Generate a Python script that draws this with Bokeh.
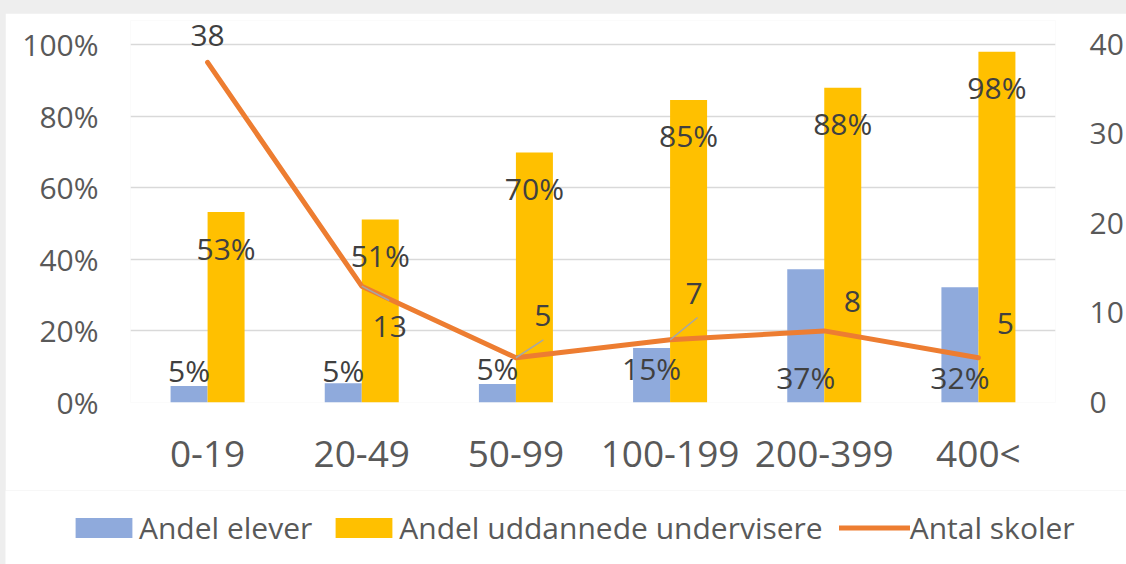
from bokeh.plotting import figure
from bokeh.layouts import column
from bokeh.models import (ColumnDataSource, FactorRange, LinearAxis, Range1d, FixedTicker,
                          NumeralTickFormatter, Legend, LegendItem)
from bokeh.transform import dodge
from bokeh.core.properties import value
from bokeh.embed import file_html
from bokeh.resources import INLINE

# ---------------- data ----------------
categories = ["0-19", "20-49", "50-99", "100-199", "200-399", "400<"]
andel_elever = [0.046, 0.054, 0.052, 0.152, 0.372, 0.322]
andel_uddannede = [0.532, 0.511, 0.698, 0.845, 0.879, 0.980]
antal_skoler = [38, 13, 5, 7, 8, 5]

elever_labels = ["5%", "5%", "5%", "15%", "37%", "32%"]
uddannede_labels = ["53%", "51%", "70%", "85%", "88%", "98%"]
skoler_labels = ["38", "13", "5", "7", "8", "5"]
series_names = ["Andel elever", "Andel uddannede undervisere", "Antal skoler"]

left_ticks = [0, 0.2, 0.4, 0.6, 0.8, 1.0]
right_ticks = [0, 10, 20, 30, 40]

# data-label placement (as positioned in the original chart)
elever_label_y = [0.09, 0.09, 0.095, 0.095, 0.07, 0.07]
skoler_label_dx_px = [0, 28, 27, 24, 28, 27]
skoler_label_y = [41.0, 8.5, 9.7, 12.2, 11.3, 8.8]

leader_categories = ["20-49", "50-99", "100-199"]
leader_start = [13, 5, 7]
leader_end_y = [11.4, 7.0, 9.5]

FONT = "Open Sans"
AXIS_COLOR = "#595959"
LABEL_COLOR = "#404040"
BLUE, YELLOW, ORANGE = "#8FAADC", "#FFC000", "#ED7D31"

src = ColumnDataSource(dict(
    cat=categories, elev=andel_elever, udd=andel_uddannede, sk=antal_skoler,
    elev_lab=elever_labels, udd_lab=uddannede_labels, sk_lab=skoler_labels,
    elev_ly=elever_label_y, sk_dx=skoler_label_dx_px, sk_ly=skoler_label_y,
))
leader_src = ColumnDataSource(dict(cat=leader_categories, y0=leader_start, y1=leader_end_y))

# ---------------- main chart ----------------
p = figure(x_range=FactorRange(factors=categories), y_range=Range1d(0, 1.067),
           width=1121, height=477, output_backend="svg", toolbar_location=None, title=None,
           min_border_left=125, min_border_right=71, min_border_top=7, min_border_bottom=88)
p.margin = (13, 0, 0, 5)
p.extra_y_ranges = {"right": Range1d(0, 42.68)}

p.outline_line_color = None
p.background_fill_color = "white"
p.border_fill_color = "white"

p.yaxis.ticker = FixedTicker(ticks=left_ticks)
p.yaxis.formatter = NumeralTickFormatter(format="0%")
right_axis = LinearAxis(y_range_name="right", ticker=FixedTicker(ticks=right_ticks))
p.add_layout(right_axis, "right")

for ax in [p.yaxis[0], right_axis, p.xaxis[0]]:
    ax.axis_line_color = None
    ax.major_tick_line_color = None
    ax.minor_tick_line_color = None
    ax.major_label_text_font = FONT
    ax.major_label_text_color = AXIS_COLOR
    ax.major_label_text_font_size = "30px"
p.yaxis[0].major_label_standoff = 26
right_axis.major_label_standoff = 28
p.xaxis[0].major_label_text_font_size = "37px"
p.xaxis[0].major_label_standoff = 18

p.xgrid.grid_line_color = None
p.ygrid.ticker = FixedTicker(ticks=left_ticks)
p.ygrid.grid_line_color = "#d9d9d9"
p.ygrid.grid_line_width = 1.3

p.vbar(x=dodge("cat", -0.12, range=p.x_range), top="elev", width=0.24, source=src,
       fill_color=BLUE, line_color=None)
p.vbar(x=dodge("cat", 0.12, range=p.x_range), top="udd", width=0.24, source=src,
       fill_color=YELLOW, line_color=None)
p.line(x="cat", y="sk", source=src, y_range_name="right", line_color=ORANGE,
       line_width=5, line_cap="round", line_join="round")
p.segment(x0="cat", y0="y0", x1=dodge("cat", 0.178, range=p.x_range), y1="y1",
          source=leader_src, y_range_name="right", line_color="#a6a6a6", line_width=1.5)

common = dict(text_align="center", text_baseline="middle", text_font=value(FONT),
              text_font_size="30px", text_color=LABEL_COLOR, source=src)
p.text(x=dodge("cat", -0.12, range=p.x_range), y="elev_ly", text="elev_lab", **common)
p.text(x=dodge("cat", 0.12, range=p.x_range), y="udd", text="udd_lab", y_offset=36, **common)
p.text(x="cat", y="sk_ly", text="sk_lab", x_offset="sk_dx", y_range_name="right", **common)

# ---------------- legend strip (series drawn out of view, only their keys show) ----------------
lg = figure(x_range=p.x_range, y_range=Range1d(50, 60), width=1121, height=74,
            output_backend="svg", toolbar_location=None, title=None,
            x_axis_type=None, y_axis_type=None,
            min_border_left=0, min_border_right=0, min_border_top=0, min_border_bottom=0)
lg.margin = (0, 0, 0, 5)
lg.outline_line_color = None
lg.background_fill_color = "white"
lg.border_fill_color = "white"
lg.xgrid.visible = False
lg.ygrid.visible = False
for fig in (p, lg):
    if "frame_align" in fig.properties():
        fig.frame_align = False

k_elev = lg.vbar(x=dodge("cat", -0.12, range=p.x_range), top="elev", width=0.24, source=src,
                 fill_color=BLUE, line_color=None)
k_udd = lg.vbar(x=dodge("cat", 0.12, range=p.x_range), top="udd", width=0.24, source=src,
                fill_color=YELLOW, line_color=None)
k_line = lg.line(x="cat", y="sk", source=src, line_color=ORANGE, line_width=5, line_cap="round")

legend = Legend(items=[LegendItem(label=series_names[0], renderers=[k_elev]),
                       LegendItem(label=series_names[1], renderers=[k_udd]),
                       LegendItem(label=series_names[2], renderers=[k_line])],
                orientation="horizontal", location=(63, 16),
                glyph_width=71, glyph_height=25, label_standoff=0, spacing=16,
                padding=0, margin=0, border_line_color=None, background_fill_alpha=0,
                label_text_font=FONT, label_text_font_size="30px", label_text_color=AXIS_COLOR)
lg.add_layout(legend)

layout = column(p, lg, spacing=0, styles={"background-color": "#eeeeee"})

open("out.html", "w").write(file_html(layout, INLINE))
